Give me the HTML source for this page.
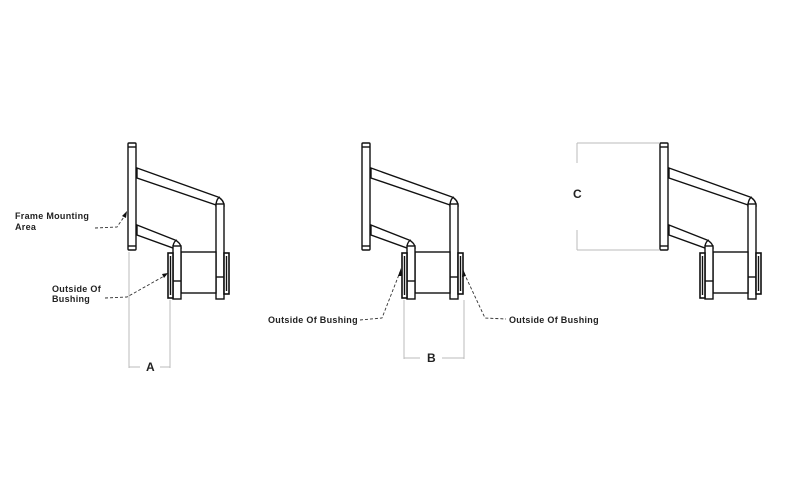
<!DOCTYPE html>
<html><head><style>
html,body{margin:0;padding:0;background:#fff;width:800px;height:481px;overflow:hidden}
svg text{font-family:"Liberation Sans",sans-serif;font-weight:bold;font-size:9px;fill:#222;letter-spacing:0.3px}
</style></head><body>
<svg width="800" height="481" viewBox="0 0 800 481" xmlns="http://www.w3.org/2000/svg">
<defs>
<g id="part" fill="#fff" stroke="#111" stroke-width="1.4">
  <path d="M137,168 L218,197 Q224,200 224,206 L216,206 L216,205 L137,178 Z"/>
  <rect x="216" y="204" width="8" height="95"/>
  <line x1="216" y1="277" x2="224" y2="277"/>
  <path d="M216,204 Q217,198 220,197"/>
  <path d="M137,225 L175,240 Q181,243 181,248 L173,248 L137,235 Z"/>
  <rect x="181" y="252" width="35" height="41"/>
  <rect x="173" y="246" width="8" height="53"/>
  <line x1="173" y1="281" x2="181" y2="281"/>
  <path d="M173,246 Q174,241 177,240"/>
  <rect x="168" y="253" width="5" height="45" stroke-width="1.6"/>
  <line x1="170.5" y1="256" x2="170.5" y2="295" stroke-width="1.4"/>
  <rect x="224" y="253" width="5" height="41" stroke-width="1.6"/>
  <line x1="226.5" y1="256" x2="226.5" y2="291" stroke-width="1.4"/>
  <rect x="128" y="143" width="8" height="107" rx="1"/>
  <line x1="128" y1="147" x2="136" y2="147"/>
  <line x1="128" y1="246" x2="136" y2="246"/>
</g>
</defs>
<use href="#part"/>
<use href="#part" x="234"/>
<use href="#part" x="532"/>

<g stroke="#bbb" stroke-width="1" fill="none">
  <line x1="129" y1="252" x2="129" y2="368"/>
  <line x1="170" y1="300" x2="170" y2="368"/>
  <line x1="129" y1="367" x2="140" y2="367"/>
  <line x1="160" y1="367" x2="170" y2="367"/>
  <line x1="404" y1="300" x2="404" y2="359"/>
  <line x1="464" y1="300" x2="464" y2="359"/>
  <line x1="404" y1="358" x2="420" y2="358"/>
  <line x1="442" y1="358" x2="464" y2="358"/>
  <line x1="577" y1="143" x2="660" y2="143"/>
  <line x1="577" y1="250" x2="660" y2="250"/>
  <line x1="577" y1="143" x2="577" y2="163"/>
  <line x1="577" y1="230" x2="577" y2="250"/>
</g>

<g stroke="#333" stroke-width="0.9" fill="none" stroke-dasharray="3,2">
  <path d="M95,228 L117,227 L126,214"/>
  <path d="M105,298 L127,297 L166,275"/>
  <path d="M360,320 L382,318 L400,272"/>
  <path d="M464,273 L485,318 L506,319"/>
</g>
<g fill="#111">
  <path d="M127,211 L122,216 L126,218 Z"/>
  <path d="M168,273 L162,274 L164,278 Z"/>
  <path d="M401,268 L398,276 L402,276 Z"/>
  <path d="M463,269 L462,277 L466,276 Z"/>
</g>

<text x="15" y="219">Frame Mounting</text>
<text x="15" y="230">Area</text>
<text x="52" y="292">Outside Of</text>
<text x="52" y="302">Bushing</text>
<text x="268" y="323">Outside Of Bushing</text>
<text x="509" y="323">Outside Of Bushing</text>
<text x="146" y="371" style="font-size:12px">A</text>
<text x="427" y="362" style="font-size:12px">B</text>
<text x="573" y="198" style="font-size:12px">C</text>
</svg>
</body></html>
